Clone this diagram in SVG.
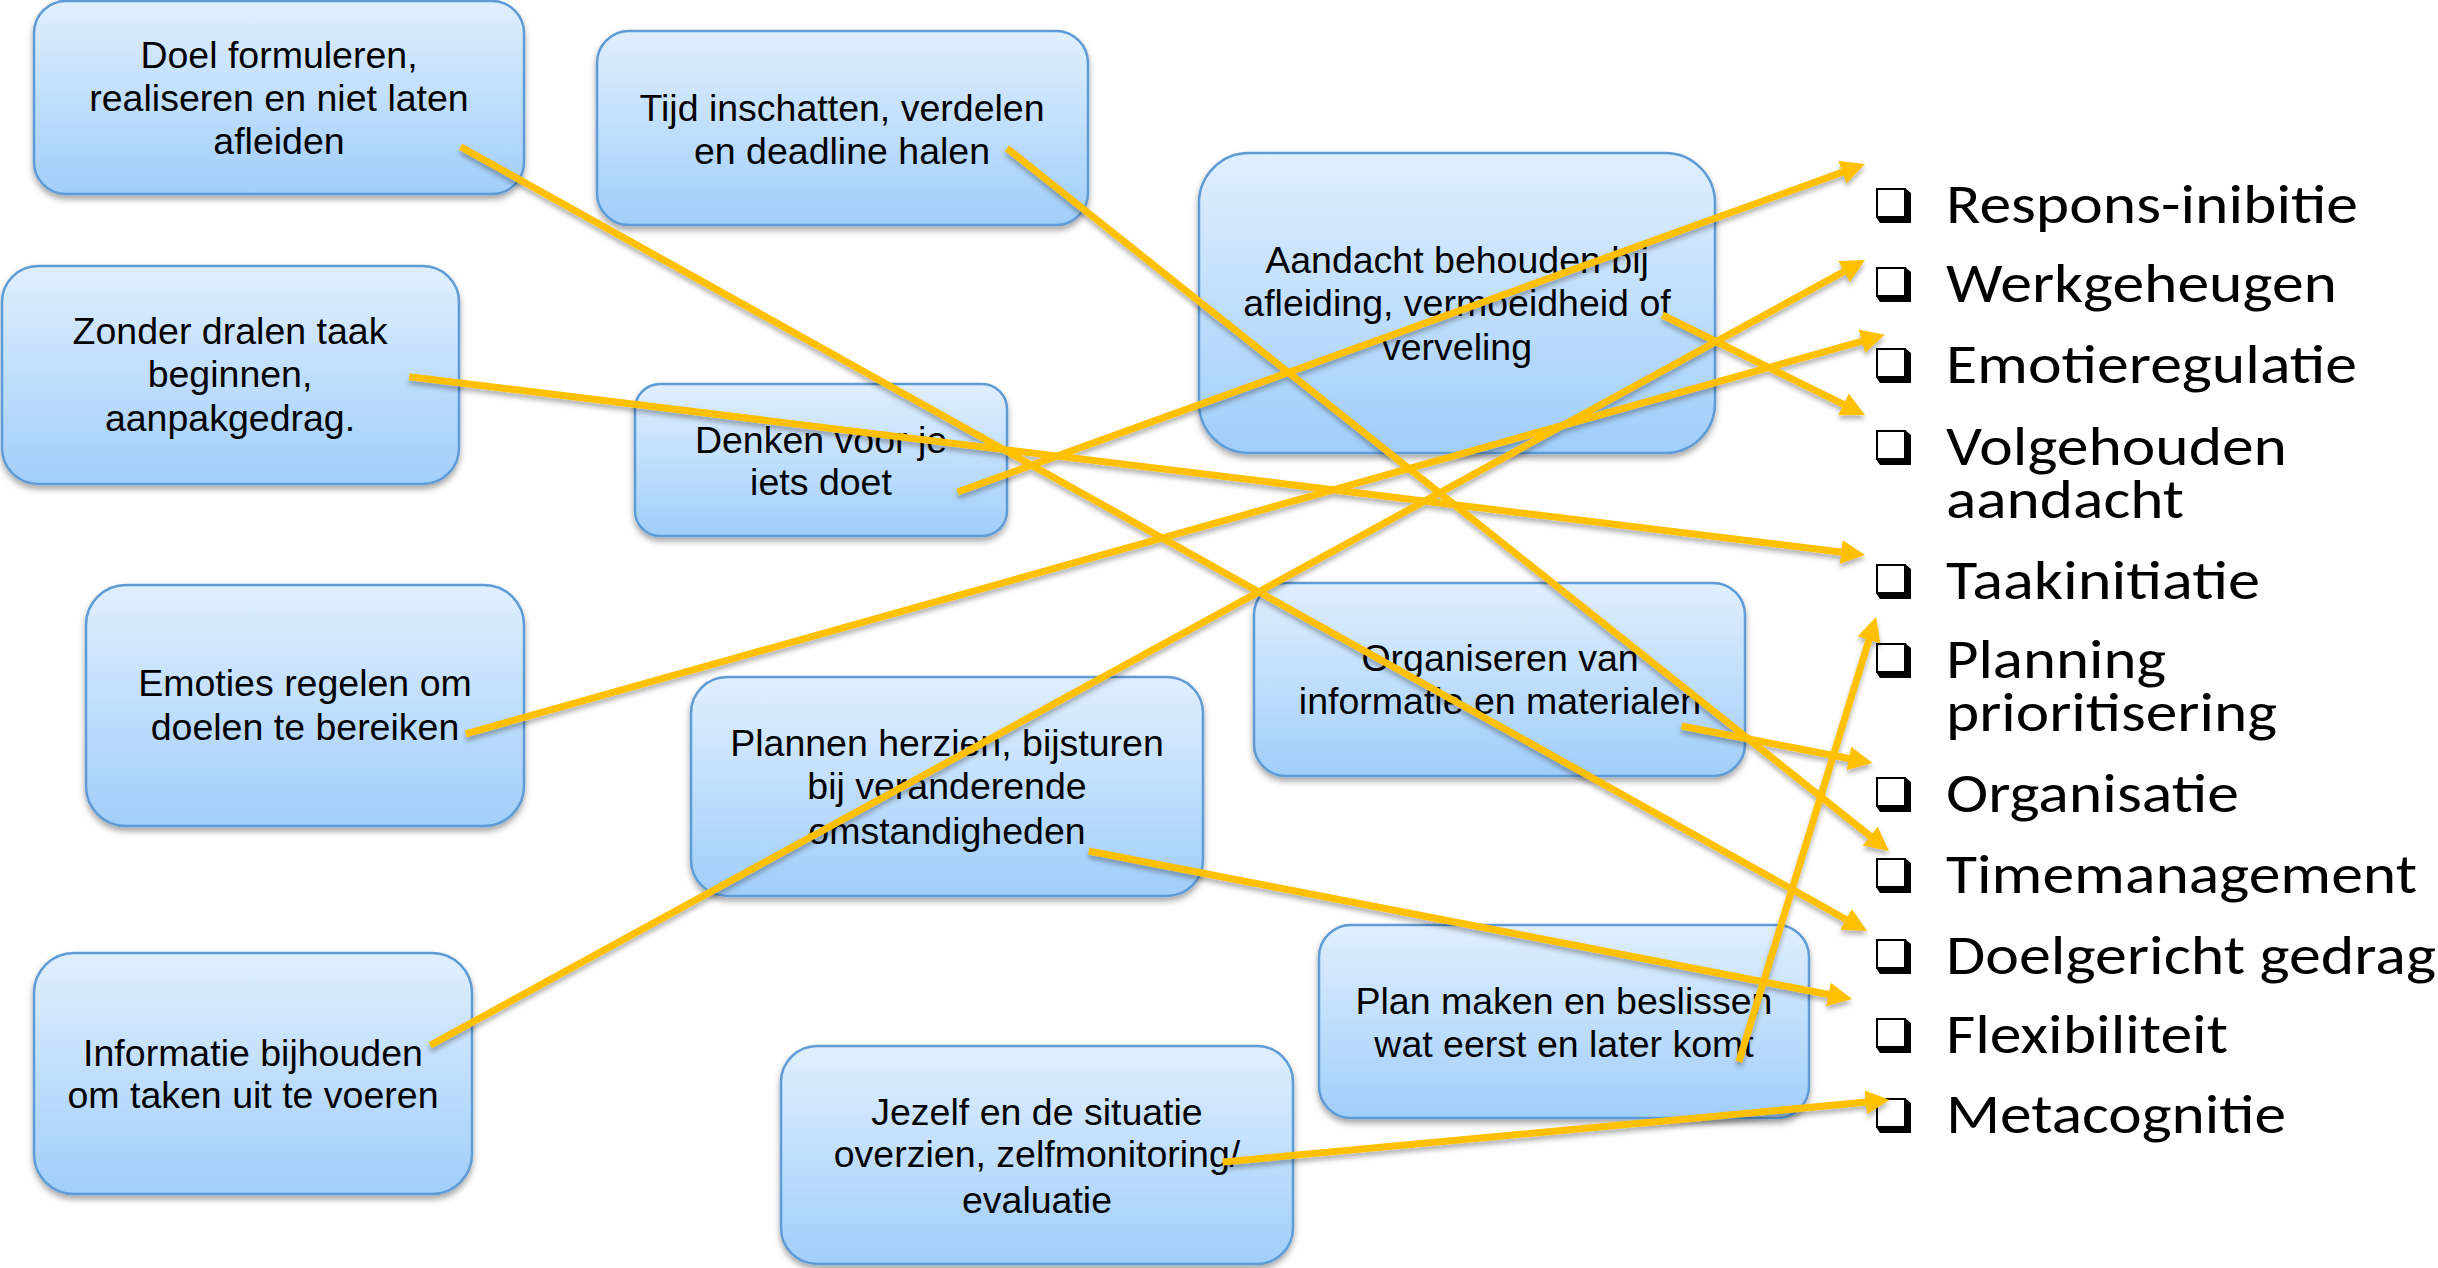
<svg xmlns="http://www.w3.org/2000/svg" xmlns:xlink="http://www.w3.org/1999/xlink" width="2438" height="1268" viewBox="0 0 2438 1268">
<style>
.box{fill:url(#bg);stroke:#5E9BD5;stroke-width:2.5;filter:url(#bsh)}
.bt{font-family:"Liberation Sans",Arial,sans-serif;font-size:37.5px;fill:#000;text-anchor:middle}
.lt{font-family:Carlito,Calibri,Lato,"Liberation Sans",sans-serif;font-size:56px;fill:#000}
.cn{fill:none;stroke:#FFC000;stroke-width:7;marker-end:url(#ah)}
</style>
<defs>
<linearGradient id="bg" x1="0" y1="0" x2="0" y2="1">
<stop offset="0" stop-color="#E0EFFE"/>
<stop offset="1" stop-color="#A1CEFA"/>
</linearGradient>
<filter id="bsh" x="-5%" y="-5%" width="110%" height="125%">
<feGaussianBlur in="SourceAlpha" stdDeviation="3"/>
<feOffset dy="4" result="b"/>
<feFlood flood-color="#000" flood-opacity="0.35"/>
<feComposite in2="b" operator="in"/>
<feMerge><feMergeNode/><feMergeNode in="SourceGraphic"/></feMerge>
</filter>
<filter id="lsh" filterUnits="userSpaceOnUse" x="0" y="0" width="2438" height="1268">
<feGaussianBlur in="SourceAlpha" stdDeviation="2.5"/>
<feOffset dy="4" result="b"/>
<feFlood flood-color="#000" flood-opacity="0.3"/>
<feComposite in2="b" operator="in"/>
<feMerge><feMergeNode/><feMergeNode in="SourceGraphic"/></feMerge>
</filter>
<marker id="ah" markerUnits="userSpaceOnUse" viewBox="0 0 24 24" markerWidth="24" markerHeight="24" refX="12" refY="12" orient="auto">
<path d="M0,0 L24,12 L0,24 z" fill="#FFC000"/>
</marker>
<g id="cb">
<polygon points="29,0 35,5 35,35 4,35 0,29 29,29" fill="#000"/>
<rect x="1" y="1" width="28" height="28" fill="#fff" stroke="#000" stroke-width="2"/>
</g>
</defs>
<rect width="2438" height="1268" fill="#fff"/>

<g id="n-doel">
<rect class="box" x="34" y="1" width="490" height="193" rx="32"/>
<text class="bt"><tspan x="279" y="68">Doel formuleren,</tspan><tspan x="279" y="111">realiseren en niet laten</tspan><tspan x="279" y="154">afleiden</tspan></text>
</g>
<g id="n-tijd">
<rect class="box" x="597" y="31" width="491" height="194" rx="32"/>
<text class="bt"><tspan x="842" y="121">Tijd inschatten, verdelen</tspan><tspan x="842" y="164">en deadline halen</tspan></text>
</g>
<g id="n-zonder">
<rect class="box" x="2" y="266" width="457" height="218" rx="36"/>
<text class="bt"><tspan x="230" y="344">Zonder dralen taak</tspan><tspan x="230" y="387">beginnen,</tspan><tspan x="230" y="431">aanpakgedrag.</tspan></text>
</g>
<g id="n-denken">
<rect class="box" x="635" y="384" width="372" height="152" rx="25"/>
<text class="bt"><tspan x="821" y="453">Denken voor je</tspan><tspan x="821" y="495">iets doet</tspan></text>
</g>
<g id="n-aandacht">
<rect class="box" x="1199" y="153" width="516" height="300" rx="50"/>
<text class="bt"><tspan x="1457" y="273">Aandacht behouden bij</tspan><tspan x="1457" y="316">afleiding, vermoeidheid of</tspan><tspan x="1457" y="360">verveling</tspan></text>
</g>
<g id="n-emoties">
<rect class="box" x="86" y="585" width="438" height="241" rx="40"/>
<text class="bt"><tspan x="305" y="696">Emoties regelen om</tspan><tspan x="305" y="740">doelen te bereiken</tspan></text>
</g>
<g id="n-plannen">
<rect class="box" x="691" y="677" width="512" height="219" rx="36"/>
<text class="bt"><tspan x="947" y="756">Plannen herzien, bijsturen</tspan><tspan x="947" y="799">bij veranderende</tspan><tspan x="947" y="844">omstandigheden</tspan></text>
</g>
<g id="n-organiseren">
<rect class="box" x="1254" y="583" width="491" height="193" rx="32"/>
<text class="bt"><tspan x="1500" y="671">Organiseren van</tspan><tspan x="1500" y="714">informatie en materialen</tspan></text>
</g>
<g id="n-informatie">
<rect class="box" x="34" y="953" width="438" height="241" rx="40"/>
<text class="bt"><tspan x="253" y="1066">Informatie bijhouden</tspan><tspan x="253" y="1108">om taken uit te voeren</tspan></text>
</g>
<g id="n-planmaken">
<rect class="box" x="1319" y="925" width="490" height="193" rx="32"/>
<text class="bt"><tspan x="1564" y="1014">Plan maken en beslissen</tspan><tspan x="1564" y="1057">wat eerst en later komt</tspan></text>
</g>
<g id="n-jezelf">
<rect class="box" x="781" y="1046" width="512" height="218" rx="36"/>
<text class="bt"><tspan x="1037" y="1125">Jezelf en de situatie</tspan><tspan x="1037" y="1167">overzien, zelfmonitoring/</tspan><tspan x="1037" y="1213">evaluatie</tspan></text>
</g>

<g id="t-respons"><use href="#cb" x="1876" y="188"/><text class="lt" x="1946" y="223" textLength="412" lengthAdjust="spacingAndGlyphs">Respons-inibitie</text></g>
<g id="t-werkgeheugen"><use href="#cb" x="1876" y="267"/><text class="lt" x="1946" y="302" textLength="391" lengthAdjust="spacingAndGlyphs">Werkgeheugen</text></g>
<g id="t-emotieregulatie"><use href="#cb" x="1876" y="348"/><text class="lt" x="1946" y="383" textLength="411" lengthAdjust="spacingAndGlyphs">Emotieregulatie</text></g>
<g id="t-volgehouden"><use href="#cb" x="1876" y="430"/><text class="lt" x="1946" y="465" textLength="341" lengthAdjust="spacingAndGlyphs">Volgehouden</text><text class="lt" x="1946" y="518" textLength="238" lengthAdjust="spacingAndGlyphs">aandacht</text></g>
<g id="t-taakinitiatie"><use href="#cb" x="1876" y="564"/><text class="lt" x="1946" y="599" textLength="314" lengthAdjust="spacingAndGlyphs">Taakinitiatie</text></g>
<g id="t-planning"><use href="#cb" x="1876" y="643"/><text class="lt" x="1946" y="678" textLength="220" lengthAdjust="spacingAndGlyphs">Planning</text><text class="lt" x="1946" y="731" textLength="331" lengthAdjust="spacingAndGlyphs">prioritisering</text></g>
<g id="t-organisatie"><use href="#cb" x="1876" y="777"/><text class="lt" x="1946" y="812" textLength="293" lengthAdjust="spacingAndGlyphs">Organisatie</text></g>
<g id="t-timemanagement"><use href="#cb" x="1876" y="858"/><text class="lt" x="1946" y="893" textLength="471" lengthAdjust="spacingAndGlyphs">Timemanagement</text></g>
<g id="t-doelgericht"><use href="#cb" x="1876" y="939"/><text class="lt" x="1946" y="974" textLength="490" lengthAdjust="spacingAndGlyphs">Doelgericht gedrag</text></g>
<g id="t-flexibiliteit"><use href="#cb" x="1876" y="1018"/><text class="lt" x="1946" y="1053" textLength="282" lengthAdjust="spacingAndGlyphs">Flexibiliteit</text></g>
<g id="t-metacognitie"><use href="#cb" x="1876" y="1098"/><text class="lt" x="1946" y="1133" textLength="340" lengthAdjust="spacingAndGlyphs">Metacognitie</text></g>

<g id="connectors" filter="url(#lsh)">
<path class="cn" d="M460.6,146.7 L1856.5,925.2"/>
<path class="cn" d="M1007,148.2 L1879.6,843.5"/>
<path class="cn" d="M409.3,376.7 L1853.1,553.5"/>
<path class="cn" d="M957.6,492 L1853.7,168.1"/>
<path class="cn" d="M1662.4,315 L1854.2,409.7"/>
<path class="cn" d="M465.8,733.8 L1873.4,338"/>
<path class="cn" d="M430.2,1045.3 L1854.5,265.8"/>
<path class="cn" d="M1088.7,851 L1840.2,996.7"/>
<path class="cn" d="M1681.6,726 L1860.7,760.7"/>
<path class="cn" d="M1738.8,1061.8 L1872.5,628.5"/>
<path class="cn" d="M1222.6,1162 L1877.7,1101.1"/>
</g>
</svg>
